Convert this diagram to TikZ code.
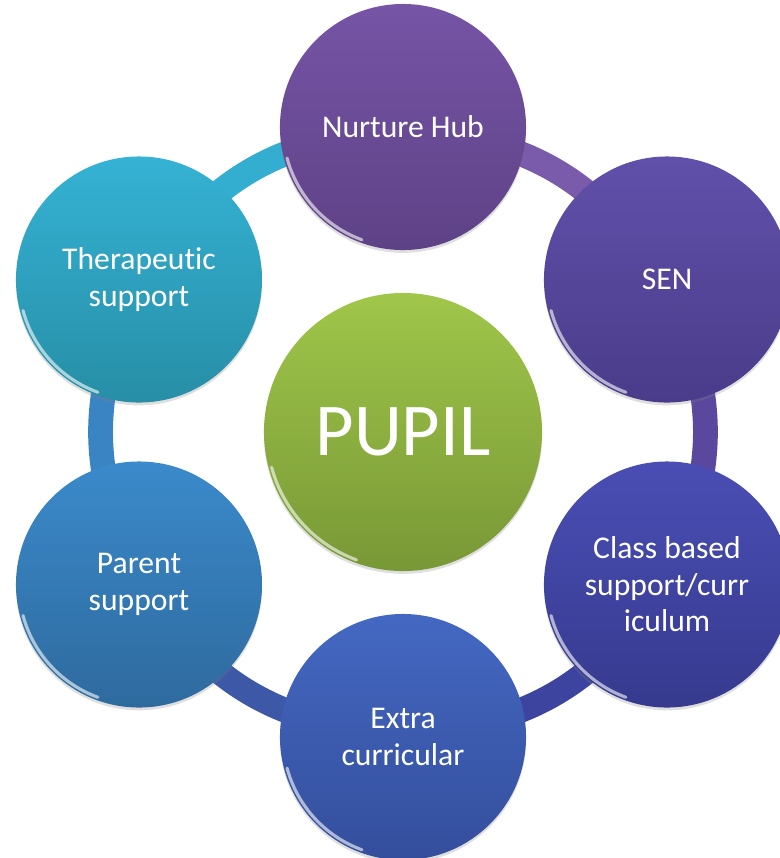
\documentclass[tikz,border=0pt]{standalone}
\usepackage{fontspec}
\setmainfont{Carlito}[Ligatures=NoCommon]
\usepackage{tikz}
\usetikzlibrary{backgrounds,shadows,calc}

\definecolor{hubtop}{HTML}{7654A6}
\definecolor{hubbot}{HTML}{5E4286}
\definecolor{sentop}{HTML}{6150AA}
\definecolor{senbot}{HTML}{4A3C8A}
\definecolor{clstop}{HTML}{4A4EB4}
\definecolor{clsbot}{HTML}{363A8E}
\definecolor{extop}{HTML}{4468C2}
\definecolor{exbot}{HTML}{344E9C}
\definecolor{partop}{HTML}{3B8ACB}
\definecolor{parbot}{HTML}{2E6A9E}
\definecolor{thtop}{HTML}{35B2D4}
\definecolor{thbot}{HTML}{278EA6}
\definecolor{puptop}{HTML}{A0C64A}
\definecolor{pupbot}{HTML}{789836}

\begin{document}
\begin{tikzpicture}[x=0.025cm,y=-0.025cm,
  gloss/.style={path picture={\draw[white,opacity=0.6,line width=2.2pt,line cap=round]
    ([shift={(195:#1)}]path picture bounding box.center) arc[start angle=195,end angle=250,radius=#1];}},
  sat/.style={circle,minimum size=6.15cm,inner sep=0pt,text=white,align=center,
    font=\fontsize{22.5}{26}\selectfont,gloss=3.0cm,
    drop shadow={opacity=0.25,shadow xshift=0pt,shadow yshift=-2pt}},
  pup/.style={circle,minimum size=6.95cm,inner sep=0pt,text=white,
    font=\fontsize{53}{60}\selectfont,top color=puptop,bottom color=pupbot,gloss=3.4cm,
    drop shadow={opacity=0.25,shadow xshift=0pt,shadow yshift=-2pt}},
  rg/.style={line width=0.62cm,line cap=round}]
  \useasboundingbox (0,0) rectangle (779,858);
  \node[pup] (pupil) at (403,432) {PUPIL};
  \node[sat,top color=hubtop,bottom color=hubbot] (hub) at (403,127) {Nurture Hub};
  \node[sat,top color=sentop,bottom color=senbot] (sen) at (667,279.5) {SEN};
  \node[sat,top color=clstop,bottom color=clsbot] (cls) at (667,584.5) {Class based\\support/curr\\iculum};
  \node[sat,top color=extop,bottom color=exbot] (extra) at (403,737) {Extra\\curricular};
  \node[sat,top color=partop,bottom color=parbot] (parent) at (139,584.5) {Parent\\support};
  \node[sat,top color=thtop,bottom color=thbot] (thera) at (139,279.5) {Therapeutic\\support};
  % ring behind the circles
  \begin{scope}[on background layer]
    \draw[rg,color={rgb,255:red,122;green,90;blue,170}] ($(pupil)!0.98!(hub)$) to[bend left=30] ($(pupil)!0.98!(sen)$);
    \draw[rg,color={rgb,255:red,90;green,72;blue,158}] ($(pupil)!0.98!(sen)$) to[bend left=30] ($(pupil)!0.98!(cls)$);
    \draw[rg,color={rgb,255:red,60;green,68;blue,160}] ($(pupil)!0.98!(cls)$) to[bend left=30] ($(pupil)!0.98!(extra)$);
    \draw[rg,color={rgb,255:red,62;green,88;blue,168}] ($(pupil)!0.98!(extra)$) to[bend left=30] ($(pupil)!0.98!(parent)$);
    \draw[rg,color={rgb,255:red,58;green,132;blue,196}] ($(pupil)!0.98!(parent)$) to[bend left=30] ($(pupil)!0.98!(thera)$);
    \draw[rg,color={rgb,255:red,52;green,174;blue,208}] ($(pupil)!0.98!(thera)$) to[bend left=30] ($(pupil)!0.98!(hub)$);
  \end{scope}
\end{tikzpicture}
\end{document}
